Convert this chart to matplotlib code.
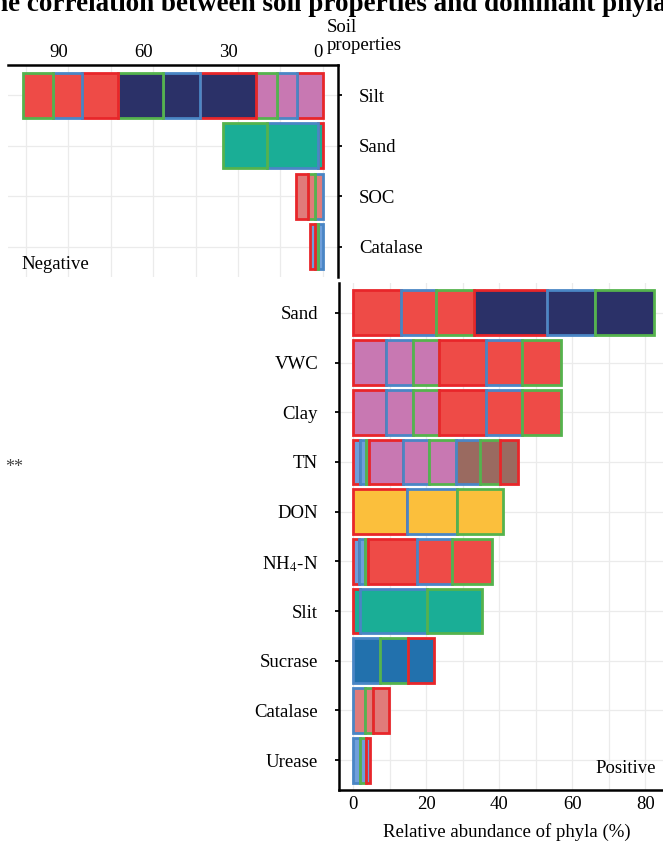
import matplotlib.pyplot as plt
from matplotlib.ticker import MultipleLocator

plt.rcParams['font.family'] = ['Liberation Serif', 'DejaVu Serif']
plt.rcParams['mathtext.fontset'] = 'stix'
plt.rcParams['font.size'] = 13.5

# fill = phylum, outline = group
fills = {'red': '#EE4B47', 'navy': '#2B3168', 'orchid': '#C878B2', 'teal': '#1AAE96',
         'salmon': '#E07B7A', 'sky': '#6F9FDB', 'brown': '#9A6A60', 'gold': '#FBBF3C',
         'steel': '#2271AD'}
edges = {'r': '#E8262A', 'b': '#4A86C5', 'g': '#55B34D'}

# negative correlations
neg_labels = ['Silt', 'Sand', 'SOC', 'Catalase']
neg_silt = [('orchid', 'r', 9.0), ('orchid', 'b', 7.1), ('orchid', 'g', 7.4),
            ('navy', 'r', 19.9), ('navy', 'b', 13.0), ('navy', 'g', 15.8),
            ('red', 'r', 13.0), ('red', 'b', 10.0), ('red', 'g', 10.8)]
neg_sand = [('teal', 'r', 1.8), ('teal', 'b', 18.1), ('teal', 'g', 15.3)]
neg_soc = [('salmon', 'b', 2.8), ('salmon', 'g', 2.4), ('salmon', 'r', 4.3)]
neg_catalase = [('sky', 'b', 1.8), ('sky', 'g', 1.1), ('sky', 'r', 1.7)]

# positive correlations
pos_labels = ['Sand', 'VWC', 'Clay', 'TN', 'DON', 'NH$_4$-N', 'Slit', 'Sucrase',
              'Catalase', 'Urease']
pos_sand = [('red', 'r', 13.0), ('red', 'b', 9.6), ('red', 'g', 10.6),
            ('navy', 'r', 20.0), ('navy', 'b', 13.0), ('navy', 'g', 16.2)]
pos_vwc = [('orchid', 'r', 9.1), ('orchid', 'b', 7.2), ('orchid', 'g', 7.3),
           ('red', 'r', 12.7), ('red', 'b', 9.8), ('red', 'g', 10.7)]
pos_clay = [('orchid', 'r', 9.1), ('orchid', 'b', 7.2), ('orchid', 'g', 7.3),
            ('red', 'r', 12.7), ('red', 'b', 9.8), ('red', 'g', 10.7)]
pos_tn = [('sky', 'r', 1.8), ('sky', 'b', 1.7), ('sky', 'g', 0.9),
          ('orchid', 'r', 9.3), ('orchid', 'b', 7.1), ('orchid', 'g', 7.3),
          ('brown', 'b', 6.6), ('brown', 'g', 5.5), ('brown', 'r', 5.0)]
pos_don = [('gold', 'r', 14.6), ('gold', 'b', 13.9), ('gold', 'g', 12.6)]
pos_nh4n = [('sky', 'r', 1.6), ('sky', 'b', 1.6), ('sky', 'g', 0.9),
            ('red', 'r', 13.3), ('red', 'b', 9.7), ('red', 'g', 10.8)]
pos_slit = [('teal', 'r', 1.8), ('teal', 'b', 18.3), ('teal', 'g', 15.3)]
pos_sucrase = [('steel', 'b', 7.3), ('steel', 'g', 7.8), ('steel', 'r', 7.1)]
pos_catalase = [('salmon', 'b', 3.2), ('salmon', 'g', 2.3), ('salmon', 'r', 4.4)]
pos_urease = [('sky', 'b', 1.8), ('sky', 'g', 1.6), ('sky', 'r', 1.3)]

neg_rows = [neg_silt, neg_sand, neg_soc, neg_catalase]
pos_rows = [pos_sand, pos_vwc, pos_clay, pos_tn, pos_don, pos_nh4n, pos_slit,
            pos_sucrase, pos_catalase, pos_urease]


def draw_stack(ax, rows, labels):
    n = len(rows)
    for i, segs in enumerate(rows):
        y = n - 1 - i
        left = 0
        for fill, grp, val in segs:
            ax.barh(y, val, left=left, height=0.9, color=fills[fill],
                    edgecolor=edges[grp], linewidth=2.0, zorder=2)
            left += val
    ax.set_yticks(range(n - 1, -1, -1))
    ax.set_yticklabels(labels)
    ax.set_ylim(-0.6, n - 0.4)
    ax.grid(True, which='both', color='#EBEBEB', linewidth=0.9, zorder=0)
    ax.set_axisbelow(True)
    for s in ax.spines.values():
        s.set_linewidth(1.8)
        s.set_color('black')


W, H = 663, 841
fig = plt.figure(figsize=(W / 100, H / 100), dpi=100)

ax_neg = fig.add_axes([8 / W, 1 - 277 / H, 330 / W, 212 / H])
draw_stack(ax_neg, neg_rows, neg_labels)
ax_neg.set_xlim(111.2, -5.3)
ax_neg.xaxis.set_major_locator(MultipleLocator(30))
ax_neg.xaxis.set_minor_locator(MultipleLocator(15))
ax_neg.xaxis.tick_top()
ax_neg.yaxis.tick_right()
ax_neg.tick_params(axis='x', which='both', length=0, pad=3)
for lab in ax_neg.get_xticklabels():
    lab.set_horizontalalignment('right')
ax_neg.tick_params(axis='y', length=3, width=1.3, pad=12)
ax_neg.spines['left'].set_visible(False)
ax_neg.spines['bottom'].set_visible(False)
ax_neg.text(0.042, 0.057, 'Negative', transform=ax_neg.transAxes,
            ha='left', va='center')

ax_pos = fig.add_axes([339 / W, 1 - 790 / H, 337 / W, 507 / H])
draw_stack(ax_pos, pos_rows, pos_labels)
ax_pos.set_xlim(-3.9, 88.4)
ax_pos.xaxis.set_major_locator(MultipleLocator(20))
ax_pos.xaxis.set_minor_locator(MultipleLocator(10))
ax_pos.tick_params(axis='x', which='both', length=0, pad=4)
ax_pos.tick_params(axis='y', length=3, width=1.3, pad=12)
ax_pos.spines['top'].set_visible(False)
ax_pos.spines['right'].set_visible(False)
ax_pos.text(0.94, 0.043, 'Positive', transform=ax_pos.transAxes,
            ha='right', va='center')

fig.text(507 / W, 1 - 832 / H, 'Relative abundance of phyla (%)',
         ha='center', va='center')
fig.text(327 / W, 1 - 19 / H, 'Soil\nproperties', ha='left', va='top',
         linespacing=1.05)
fig.text(5 / W, 1 - 467 / H, '**', ha='left', va='center', fontsize=13,
         color='#444444')
fig.text(-25 / W, 1 - 11 / H,
         'The correlation between soil properties and dominant phyla',
         ha='left', va='baseline', fontsize=19.5, fontweight='bold')

fig.savefig('out.png', dpi=100)
